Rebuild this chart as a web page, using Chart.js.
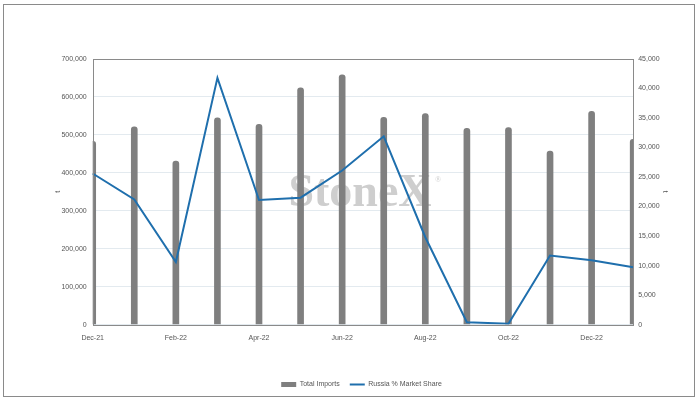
<!DOCTYPE html>
<html>
<head>
<meta charset="utf-8">
<script src="https://cdn.jsdelivr.net/npm/chart.js@4.4.0/dist/chart.umd.min.js"></script>
<style>
  html, body { margin: 0; padding: 0; background: #fff; }
  #wrap { position: relative; width: 700px; height: 400px; }
  #frame { position: absolute; left: 3px; top: 4px; width: 690px; height: 391px; border: 1px solid #8a8a8a; pointer-events: none; }
</style>
</head>
<body>
<div id="wrap">
  <canvas id="importsChart" width="700" height="400"></canvas>
  <div id="frame"></div>
</div>
<script>
const months = ['Dec-21', 'Jan-22', 'Feb-22', 'Mar-22', 'Apr-22', 'May-22', 'Jun-22',
                'Jul-22', 'Aug-22', 'Sep-22', 'Oct-22', 'Nov-22', 'Dec-22', 'Jan-23'];

// total imports, t (left axis)
const totalImports = [483000, 521000, 431000, 545000, 528000, 624000, 658000,
                      546000, 556000, 517000, 519000, 457000, 562000, 488000];

// Russia, t (right axis)
const russiaShare = [25600, 21200, 10600, 41800, 21100, 21500, 26100,
                     31900, 14800, 400, 150, 11700, 10900, 9700];

// watermark behind the bars
const watermark = {
    id: 'watermark',
    beforeDatasetsDraw(chart) {
        const ctx = chart.ctx;
        ctx.save();
        ctx.font = 'bold 46px "Liberation Serif", "DejaVu Serif", serif';
        ctx.fillStyle = 'rgba(190,190,190,0.75)';
        ctx.textAlign = 'center';
        ctx.textBaseline = 'alphabetic';
        ctx.fillText('StoneX', 360, 206);
        ctx.font = '8px "Liberation Serif", serif';
        ctx.fillText('®', 438, 182);
        ctx.restore();
    }
};

// grey box round the plot area
const plotBorder = {
    id: 'plotBorder',
    afterDatasetsDraw(chart) {
        const a = chart.chartArea;
        const ctx = chart.ctx;
        ctx.save();
        ctx.strokeStyle = '#8a8a8a';
        ctx.lineWidth = 1;
        ctx.strokeRect(Math.round(a.left) + 0.5, Math.round(a.top) + 0.5,
                       Math.round(a.right - a.left), Math.round(a.bottom - a.top));
        ctx.restore();
    }
};

const tickFont = { family: '"Liberation Sans", Arial, sans-serif', size: 7 };

new Chart(document.getElementById('importsChart').getContext('2d'), {
    data: {
        labels: months,
        datasets: [{
            type: 'line',
            label: 'Russia % Market Share',
            data: russiaShare,
            yAxisID: 'y1',
            borderColor: '#1f6fad',
            backgroundColor: '#1f6fad',
            borderWidth: 2,
            pointRadius: 0,
            tension: 0,
            fill: false,
            pointStyle: 'line',
            order: 1
        }, {
            type: 'bar',
            label: 'Total Imports',
            data: totalImports,
            yAxisID: 'y',
            backgroundColor: '#7f7f7f',
            barThickness: 6,
            borderRadius: { topLeft: 3, topRight: 3 },
            borderSkipped: 'bottom',
            pointStyle: 'rect',
            order: 2
        }]
    },
    options: {
        responsive: false,
        animation: false,
        layout: { padding: { left: 54, right: 31, top: 59, bottom: 2 } },
        plugins: {
            legend: {
                position: 'bottom',
                reverse: true,
                labels: {
                    usePointStyle: true,
                    pointStyleWidth: 15,
                    boxHeight: 5,
                    padding: 10,
                    color: '#555',
                    font: { family: '"Liberation Sans", Arial, sans-serif', size: 7 }
                }
            },
            tooltip: { enabled: false }
        },
        scales: {
            x: {
                offset: false,
                grid: { display: false },
                border: { display: false },
                afterFit: scale => { scale.height += 28; },
                ticks: {
                    autoSkip: false,
                    maxRotation: 0,
                    color: '#555',
                    font: tickFont,
                    padding: 1,
                    callback: (v, i) => i % 2 === 0 ? months[i] : ''
                }
            },
            y: {
                position: 'left',
                min: 0,
                max: 700000,
                ticks: {
                    stepSize: 100000,
                    color: '#555',
                    font: tickFont,
                    padding: 6,
                    callback: v => v.toLocaleString('en-US')
                },
                grid: { color: '#e3eaef', drawTicks: false },
                border: { display: false },
                title: { display: true, text: 't', color: '#555', font: tickFont, padding: { top: 0, bottom: -7 } }
            },
            y1: {
                position: 'right',
                min: 0,
                max: 45000,
                ticks: {
                    stepSize: 5000,
                    color: '#555',
                    font: tickFont,
                    padding: 5,
                    callback: v => v.toLocaleString('en-US')
                },
                grid: { display: false, drawTicks: false },
                border: { display: false },
                title: { display: true, text: 't', color: '#555', font: tickFont, padding: { top: 0, bottom: -4 } }
            }
        }
    },
    plugins: [watermark, plotBorder]
});
</script>
</body>
</html>
